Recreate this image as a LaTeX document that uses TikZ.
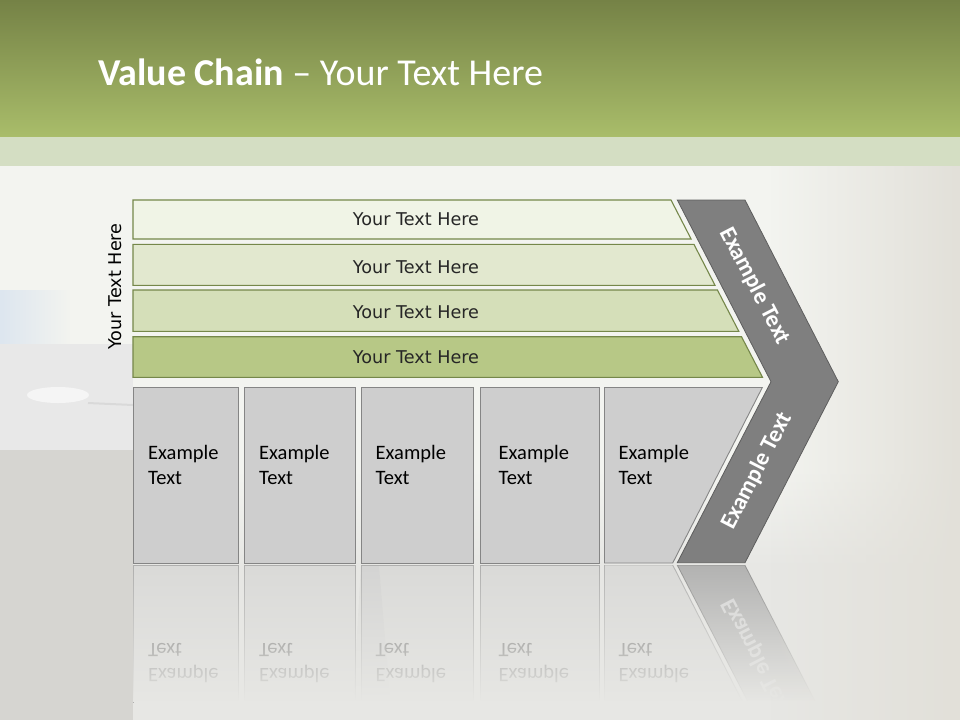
\documentclass[tikz,border=0pt]{standalone}
\usepackage{fontspec}
\setmainfont{Carlito}
\newfontfamily\barfont{DejaVu Sans}
\usetikzlibrary{fadings}
\definecolor{bandtop}{HTML}{758246}
\definecolor{bandbot}{HTML}{A9BD6A}
\definecolor{paleband}{HTML}{D4DEC3}
\definecolor{bgmain}{HTML}{F3F4F0}
\definecolor{bglow}{HTML}{E7E7E4}
\definecolor{bgright}{HTML}{E2E0D9}
\definecolor{bgblue}{HTML}{DDE6EF}
\definecolor{barA}{HTML}{F0F4E6}
\definecolor{barB}{HTML}{E2E8CF}
\definecolor{barC}{HTML}{D5DFB9}
\definecolor{barD}{HTML}{B7C886}
\definecolor{barline}{HTML}{75874A}
\definecolor{boxfill}{HTML}{CECECE}
\definecolor{boxline}{HTML}{858585}
\definecolor{chevfill}{HTML}{7F7F7F}
\definecolor{chevline}{HTML}{5E5E5E}
\definecolor{bartext}{HTML}{262626}
\tikzset{
  barsty/.style={draw=barline, line width=1.1pt},
  boxsty/.style={fill=boxfill, draw=boxline, line width=0.9pt},
  chevsty/.style={fill=chevfill, draw=chevline, line width=0.8pt},
  bartxt/.style={font=\barfont\fontsize{17.6}{20}\selectfont, text=bartext, inner sep=0pt, anchor=base},
  boxtxt/.style={font=\fontsize{20.5}{25}\selectfont, text=black, inner sep=0pt, anchor=base west, text width=80pt, align=left},
  chevtxt/.style={font=\bfseries\fontsize{23.5}{26}\selectfont, text=white, inner sep=0pt},
}
\newcommand\drawlowerpart{%
  \path[boxsty] (133,387.5) rectangle (238.5,563);
  \path[boxsty] (244,387.5) rectangle (355.5,563);
  \path[boxsty] (361,387.5) rectangle (473.5,563);
  \path[boxsty] (480,387.5) rectangle (599.5,563);
  \path[boxsty] (604.5,387.5) -- (762.3,387.5) -- (672.7,563) -- (604.5,563) -- cycle;
  \node[boxtxt] (t1) at (148,459.3) {Example\\Text};
  \node[boxtxt] (t2) at (259,459.3) {Example\\Text};
  \node[boxtxt] (t3) at (375.5,459.3) {Example\\Text};
  \node[boxtxt] (t4) at (498.5,459.3) {Example\\Text};
  \node[boxtxt] (t5) at (618.5,459.3) {Example\\Text};
  \path[chevsty] (677.3,200) -- (745,200) -- (838.3,381.7) -- (745,562.7) -- (677.3,562.7) -- (771,381.7) -- cycle;
  \node[chevtxt, rotate=62.7] (c2) at (757,471) {Example Text};
}
\begin{document}
\begin{tikzpicture}[x=1pt,y=-1pt]
\useasboundingbox (0,0) rectangle (960,720);
% background
\fill[bgmain] (0,0) rectangle (960,720);
\shade[top color=bgmain, bottom color=bglow] (0,470) rectangle (960,566);
\fill[bglow] (0,565) rectangle (960,720);
\shade[top color=bandtop, bottom color=bandbot] (0,0) rectangle (960,137);
\fill[paleband] (0,137) rectangle (960,166);
\fill[bgblue, path fading=east] (0,290) rectangle (70,344);
\fill[white!91!black] (0,344) rectangle (133,450);
\fill[white!81!black!98!yellow] (0,450) rectangle (133,720);
\fill[white!96!black] (58,395) ellipse (31 and 8);
\draw[white!85!black, line width=2pt] (88,403) -- (133,405);
% reflection
\begin{scope}
  \clip (133,565) rectangle (850,702);
  \begin{scope}[opacity=0.5, shift={(0,1128)}, yscale=-1, transform shape]
    \drawlowerpart
  \end{scope}
  \fill[white!75!black, opacity=0.2] (361,566) -- (379,566) -- (392,720) -- (352,720) -- cycle;
\end{scope}
\fill[bglow, path fading=north] (133.5,564) rectangle (855,702);
\fill[bglow] (133.5,701) rectangle (855,720);
\fill[bgright, path fading=west] (770,166) rectangle (960,720);
% title
\node[anchor=base west, inner sep=0pt, text=white, font=\fontsize{38}{42}\selectfont] (title) at (98,85) {\textbf{Value Chain} – Your Text Here};
% bars
\path[barsty, fill=barA] (133,200) -- (671,200) -- (691.1,239) -- (133,239) -- cycle;
\path[barsty, fill=barB] (133,244.3) -- (693.9,244.3) -- (715,285.3) -- (133,285.3) -- cycle;
\path[barsty, fill=barC] (133,290) -- (717.4,290) -- (738.8,331.3) -- (133,331.3) -- cycle;
\path[barsty, fill=barD] (133,336.7) -- (741.5,336.7) -- (762.5,377.3) -- (133,377.3) -- cycle;
\node[bartxt] (b1) at (416,225) {Your Text Here};
\node[bartxt] (b2) at (416,273.3) {Your Text Here};
\node[bartxt] (b3) at (416,318.5) {Your Text Here};
\node[bartxt] (b4) at (416,363.3) {Your Text Here};
\node[font=\barfont\fontsize{17.6}{20}\selectfont, text=black, inner sep=0pt, rotate=90] (side) at (115,286.5) {Your Text Here};
% lower part and chevron
\drawlowerpart
\node[chevtxt, rotate=-62.7] (c1) at (755,286) {Example Text};
\end{tikzpicture}
\end{document}
